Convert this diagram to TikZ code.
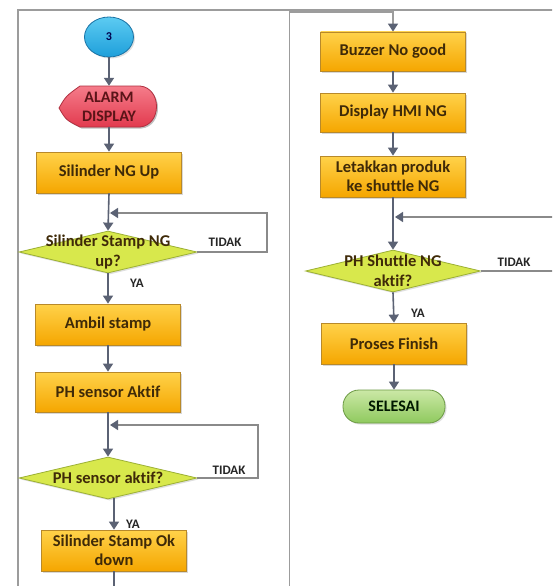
\documentclass[tikz,border=0pt]{standalone}
\usepackage{fontspec}
\setmainfont[Ligatures=NoCommon]{Carlito}
\usetikzlibrary{arrows.meta,shapes.geometric,shadows}
\definecolor{boxtop}{HTML}{FFD24A}
\definecolor{boxbot}{HTML}{F5A600}
\definecolor{boxline}{HTML}{B8892A}
\definecolor{txt}{HTML}{3F2A08}
\definecolor{dia}{HTML}{D8E84C}
\definecolor{dialine}{HTML}{9CB034}
\definecolor{redtop}{HTML}{F57C8A}
\definecolor{redbot}{HTML}{E23A4E}
\definecolor{redline}{HTML}{B03040}
\definecolor{redtxt}{HTML}{5A1418}
\definecolor{bluetop}{HTML}{5CCBF2}
\definecolor{bluebot}{HTML}{1E9FDA}
\definecolor{blueline}{HTML}{1B74A6}
\definecolor{greentop}{HTML}{CBE8A6}
\definecolor{greenbot}{HTML}{8FC95E}
\definecolor{greenline}{HTML}{6C9A44}
\definecolor{arr}{HTML}{5B6274}
\definecolor{framec}{HTML}{9C9C9C}
\definecolor{loopc}{HTML}{8A8A8A}
\tikzset{
  procbox/.style={rectangle, draw=boxline, line width=0.8pt, top color=boxtop, bottom color=boxbot,
    minimum width=145pt, minimum height=41pt, inner sep=1pt, align=center, text=txt,
    font=\bfseries\fontsize{16.5}{18.5}\selectfont,
    drop shadow={opacity=0.3, shadow xshift=1.5pt, shadow yshift=-1.5pt}},
  decision/.style={diamond, draw=dialine, line width=0.8pt, fill=dia, inner sep=0pt,
    minimum width=178pt, minimum height=42pt,
    drop shadow={opacity=0.25, shadow xshift=1.5pt, shadow yshift=-1.5pt}},
  dectext/.style={align=center, text=txt, inner sep=0pt, font=\bfseries\fontsize{16.5}{19.5}\selectfont},
  lbl/.style={text=black!85, inner sep=0pt, font=\bfseries\fontsize{13}{14}\selectfont},
  flow/.style={draw=arr, line width=1.6pt, -{Triangle[width=10pt,length=8pt]}},
  plainflow/.style={draw=arr, line width=1.6pt},
  loopl/.style={draw=loopc, line width=1.3pt, -{Triangle[width=10pt,length=8pt,color=arr]}},
  framel/.style={draw=framec, line width=1.4pt},
}
\begin{document}
\begin{tikzpicture}[x=1pt,y=-1pt]
\fill[white] (0,0) rectangle (552,586);
\useasboundingbox (0,0) rectangle (552,586);
\clip (0,0) rectangle (552,586);

% frame
\draw[framel] (18,600) -- (18,10) -- (560,10);

% start connector
\node[ellipse, draw=blueline, line width=0.8pt, top color=bluetop, bottom color=bluebot,
  minimum width=49pt, minimum height=40pt, inner sep=0pt, text=blue!30!black,
  font=\bfseries\fontsize{12}{14}\selectfont,
  drop shadow={opacity=0.25, shadow xshift=1.5pt, shadow yshift=-1.5pt}] (c3) at (109,37) {3};

% alarm display shape
\fill[black, opacity=0.25] (60.5,109.5) .. controls (67.5,97.5) .. (81.5,87.5) -- (141.5,87.5)
  .. controls (163.5,89.5) and (163.5,126.5) .. (141.5,128.5) -- (81.5,128.5)
  .. controls (67.5,121.5) .. (60.5,109.5) -- cycle;
\path[draw=redline, line width=0.8pt, top color=redtop, bottom color=redbot]
  (59,108) .. controls (66,96) .. (80,86) -- (140,86)
  .. controls (162,88) and (162,125) .. (140,127) -- (80,127)
  .. controls (66,120) .. (59,108) -- cycle;
\node[align=center, text=redtxt, minimum width=100pt, minimum height=41pt, inner sep=0pt,
  font=\bfseries\fontsize{16}{19}\selectfont] (alarm) at (109,106.5) {ALARM\\DISPLAY};

% left column
\node[procbox] (b1) at (109,172.5) {Silinder NG Up};
\node[decision] (d1) at (108,252) {};
\node[dectext] (d1t) at (108,252) {Silinder Stamp NG\\up?};
\node[procbox] (b2) at (108,324.5) {Ambil stamp};
\node[procbox, minimum height=40pt] (b3) at (108,392) {PH sensor Aktif};
\node[decision] (d2) at (108,478) {};
\node[dectext] (d2t) at (108,478) {PH sensor aktif?};
\node[procbox] (b4) at (114,550.5) {Silinder Stamp Ok\\down};

% right column
\node[procbox, minimum height=39pt] (b5) at (393,51.5) {Buzzer No good};
\node[procbox, minimum height=39pt] (b6) at (393,112.5) {Display HMI NG};
\node[procbox] (b7) at (393,176.5) {Letakkan produk\\ke shuttle NG};
\node[decision, minimum width=175pt] (d3) at (393,271) {};
\node[dectext] (d3t) at (393,271) {PH Shuttle NG\\aktif?};
\node[procbox] (b8) at (394,343.5) {Proses Finish};
\node[rectangle, rounded corners=16pt, draw=greenline, line width=0.8pt, top color=greentop,
  bottom color=greenbot, minimum width=102pt, minimum height=33pt, inner sep=0pt,
  text=black!75!green!40!black, font=\bfseries\fontsize{16}{18}\selectfont,
  drop shadow={opacity=0.25, shadow xshift=1.5pt, shadow yshift=-1.5pt}] (end) at (394,406.5) {SELESAI};

% coordinates
\coordinate (l1a) at (267,252);
\coordinate (l1b) at (267,213);
\coordinate (l1c) at (110,213);
\coordinate (l2a) at (258,478);
\coordinate (l2b) at (258,425);
\coordinate (l2c) at (110,425);
\coordinate (l3a) at (560,271);
\coordinate (l3b) at (560,217);
\coordinate (l3c) at (395,217);
\coordinate (rbot) at (289.5,600);
\coordinate (rtop) at (289.5,12);
\coordinate (rtop2) at (393,12);
\coordinate (lbot) at (114,600);

% flow connectors
\draw[flow] (c3.south) -- (alarm.north);
\draw[flow] (alarm.south) -- (b1.north);
\draw[flow] (b1.south) -- (d1.north);
\draw[flow] (d1.south) -- (b2.north);
\draw[flow] (b2.south) -- (b3.north);
\draw[flow] (b3.south) -- (d2.north);
\draw[flow] ([yshift=1.5pt]b4.north |- d2.south) -- (b4.north);
\draw[plainflow] (b4.south) -- (lbot);

\draw[draw=framec, line width=1.5pt, -{Triangle[width=10pt,length=8pt,color=arr]}]
  (rbot) -- (rtop) -- (rtop2) -- (b5.north);
\draw[flow] (b5.south) -- (b6.north);
\draw[flow] (b6.south) -- (b7.north);
\draw[flow] (b7.south) -- (d3.north);
\draw[flow] (d3.south) -- (b8.north);
\draw[flow] (b8.south) -- (end.north);

% loops
\draw[loopl] (d1.east) -- (l1a) -- (l1b) -- (l1c);
\draw[loopl] (d2.east) -- (l2a) -- (l2b) -- (l2c);
\draw[loopl] (d3.east) -- (l3a) -- (l3b) -- (l3c);

% labels
\node[lbl] (t1) at (225,242) {TIDAK};
\node[lbl] (y1) at (137,283) {YA};
\node[lbl] (t2) at (229,470) {TIDAK};
\node[lbl] (y2) at (133,524) {YA};
\node[lbl] (t3) at (514,262) {TIDAK};
\node[lbl] (y3) at (418,313) {YA};
\end{tikzpicture}
\end{document}
